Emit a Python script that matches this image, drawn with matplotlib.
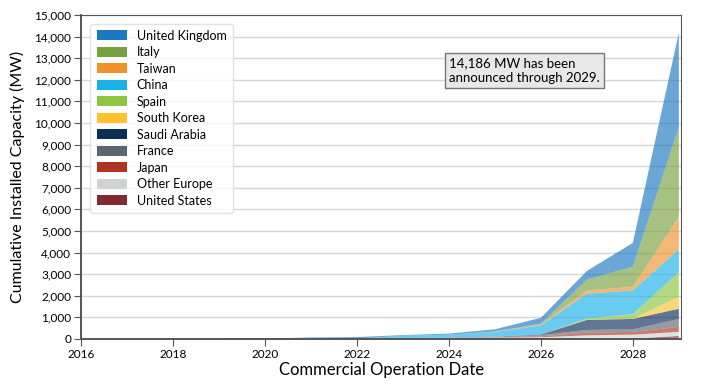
import matplotlib.pyplot as plt
from matplotlib.patches import Patch
from matplotlib.ticker import FuncFormatter

plt.rcParams['font.family'] = ['Lato', 'DejaVu Sans']

years = list(range(2016, 2030))

# cumulative installed capacity (MW) per country
united_states = [0, 0, 0, 0, 0, 0, 0, 0, 5, 10, 20, 20, 20, 140]
other_europe = [0, 0, 0, 0, 0, 0, 0, 20, 35, 50, 60, 150, 180, 190]
japan = [0, 0, 0, 0, 0, 0, 0, 0, 10, 20, 40, 130, 130, 230]
france = [0, 0, 0, 0, 0, 0, 0, 10, 20, 30, 60, 120, 120, 370]
saudi_arabia = [0, 0, 0, 0, 0, 0, 0, 0, 0, 0, 30, 460, 480, 470]
south_korea = [0, 0, 0, 0, 0, 0, 0, 0, 0, 0, 0, 0, 0, 550]
spain = [0, 0, 0, 0, 0, 0, 0, 0, 0, 0, 0, 70, 220, 1150]
china = [0, 0, 0, 0, 0, 10, 20, 120, 130, 220, 420, 1150, 1100, 1050]
taiwan = [0, 0, 0, 0, 0, 0, 0, 0, 0, 10, 40, 150, 170, 1500]
italy = [0, 0, 0, 0, 0, 0, 0, 0, 0, 10, 40, 500, 930, 4150]
united_kingdom = [0, 0, 0, 5, 20, 60, 70, 30, 50, 100, 270, 400, 1100, 4386]

names = ['United States', 'Other Europe', 'Japan', 'France', 'Saudi Arabia',
         'South Korea', 'Spain', 'China', 'Taiwan', 'Italy', 'United Kingdom']
colors = ['#7f2a30', '#d0d2d3', '#b0341f', '#5b6770', '#0c2d5a',
          '#fdc12e', '#8dc63f', '#1ab0e8', '#f0922a', '#77a040', '#1a78c2']
series = [united_states, other_europe, japan, france, saudi_arabia,
          south_korea, spain, china, taiwan, italy, united_kingdom]

fig = plt.figure(figsize=(7.11, 3.85), dpi=100)
ax = fig.add_axes([0.114, 0.1195, 0.844, 0.8415])

ax.stackplot(years, *series, colors=colors, alpha=0.65, linewidth=0)

ax.set_xlim(2016, 2029.05)
ax.set_ylim(0, 15000)
ax.set_xticks(range(2016, 2029, 2))
ax.set_yticks(range(0, 15001, 1000))
ax.yaxis.set_major_formatter(FuncFormatter(lambda v, p: f'{int(v):,}'))
ax.grid(axis='y', color='#d6d6d6', linewidth=1)
ax.set_axisbelow(True)
for s in ax.spines.values():
    s.set_color('#555555')
ax.spines['left'].set_linewidth(1.4)
ax.spines['bottom'].set_linewidth(1.4)
ax.tick_params(labelsize=8.5, color='#555555', length=5, pad=2)

ax.set_xlabel('Commercial Operation Date', fontsize=12, labelpad=2)
ax.set_ylabel('Cumulative Installed Capacity (MW)', fontsize=11.5, labelpad=7)

handles = [Patch(facecolor=c, edgecolor='none') for c in colors[::-1]]
leg = ax.legend(handles, names[::-1], loc='upper left', bbox_to_anchor=(0.005, 0.993),
                fontsize=9, handlelength=2.4, handleheight=0.85, labelspacing=0.36,
                handletextpad=0.8, frameon=True, fancybox=True, borderpad=0.5)
leg.get_frame().set_edgecolor('#dddddd')

ax.text(0.613, 0.87, '14,186 MW has been\nannounced through 2029.', transform=ax.transAxes,
        fontsize=9.5, va='top', ha='left', linespacing=1.25,
        bbox=dict(boxstyle='square,pad=0.3', facecolor='#e8e8e8', edgecolor='#777777'))

fig.savefig('out.png', dpi=100)
